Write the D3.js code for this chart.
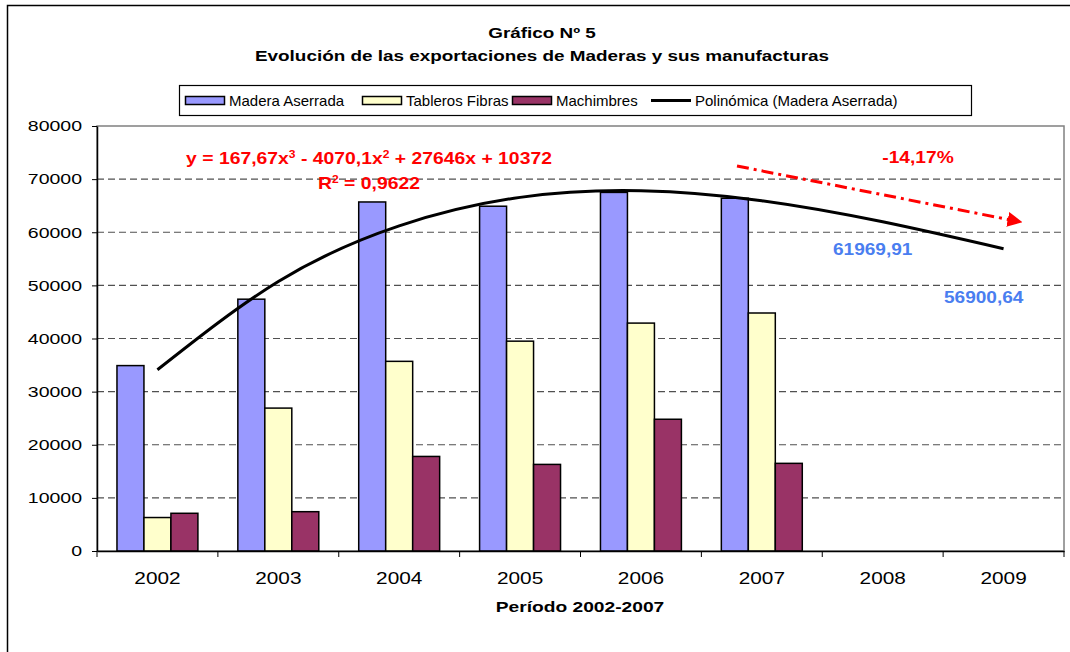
<!DOCTYPE html>
<html>
<head>
<meta charset="utf-8">
<script src="https://cdn.jsdelivr.net/npm/d3@7"></script>
<style>
  body { margin: 0; background: #fff; }
  svg text { font-family: "Liberation Sans", Arial, sans-serif; }
</style>
</head>
<body>
<div id="svganchor"></div>
<script>
let width = 1070, height = 652;

let margin = ({top: 126, right: 6, bottom: 101, left: 97});

// data
let years = ["2002", "2003", "2004", "2005", "2006", "2007", "2008", "2009"];
let seriesNames = ["Madera Aserrada", "Tableros Fibras", "Machimbres"];
let maderaAserrada = [34900, 47400, 65700, 64900, 67500, 66400];
let tablerosFibras = [6300, 26900, 35700, 39500, 42900, 44800];
let machimbres = [7100, 7400, 17800, 16300, 24800, 16500];
// polynomial trend (Madera Aserrada), value at each year
let trendValues = [34116, 50725, 61206, 66565, 67808, 65941, 61970, 56901];
let yTicks = [0, 10000, 20000, 30000, 40000, 50000, 60000, 70000, 80000];
let colors = ["#9999ff", "#ffffcc", "#993366"];

// the original picture has horizontally widened lettering
function stretch(sel, s) {
    sel.each(function() {
        let t = d3.select(this);
        let x = +t.attr("x") || 0;
        let y = +t.attr("y") || 0;
        t.attr("x", 0).attr("y", 0)
            .attr("transform", "translate(" + x + "," + y + ") scale(" + s + ",1)");
    });
}

let svg = d3.select("#svganchor")
    .append("svg")
    .attr("width", width)
    .attr("height", height);

// outer frame
svg.append("path")
    .attr("d", "M7.5," + height + "V5.5H" + width)
    .attr("fill", "none")
    .attr("stroke", "#000")
    .attr("stroke-width", 1.5);

let xScale = d3.scaleBand()
    .domain(years)
    .range([margin.left, width - margin.right]);

let xInner = d3.scaleBand()
    .domain(seriesNames)
    .range([0, xScale.bandwidth()])
    .paddingInner(0)
    .paddingOuter(0.74);

let yScale = d3.scaleLinear()
    .domain([0, 80000])
    .range([height - margin.bottom, margin.top]);

// plot area border
svg.append("rect")
    .attr("x", margin.left)
    .attr("y", margin.top)
    .attr("width", width - margin.right - margin.left)
    .attr("height", height - margin.bottom - margin.top)
    .attr("fill", "none")
    .attr("stroke", "#808080")
    .attr("stroke-width", 1.5);

// grid lines
svg.append("g")
    .selectAll("line")
    .data(yTicks.filter(function(d) { return d > 0 && d < 80000; }))
    .enter()
    .append("line")
    .attr("x1", margin.left)
    .attr("x2", width - margin.right)
    .attr("y1", function(d) { return yScale(d); })
    .attr("y2", function(d) { return yScale(d); })
    .attr("stroke", "#505050")
    .attr("stroke-width", 1.2)
    .attr("stroke-dasharray", "7,4");

// bars
let dataSet = [];
years.forEach(function(y, i) {
    [maderaAserrada, tablerosFibras, machimbres].forEach(function(s, j) {
        if (s[i] !== undefined) {
            dataSet.push({year: y, series: seriesNames[j], value: s[i], color: colors[j]});
        }
    });
});

svg.append("g")
    .selectAll("rect")
    .data(dataSet)
    .enter()
    .append("rect")
    .attr("x", function(d) { return xScale(d.year) + xInner(d.series); })
    .attr("y", function(d) { return yScale(d.value); })
    .attr("width", xInner.bandwidth())
    .attr("height", function(d) { return yScale(0) - yScale(d.value); })
    .attr("fill", function(d) { return d.color; })
    .attr("stroke", "#000")
    .attr("stroke-width", 1.5);

// trend line
let line = d3.line()
    .x(function(d, i) { return xScale(years[i]) + xScale.bandwidth() / 2; })
    .y(function(d) { return yScale(d); })
    .curve(d3.curveNatural);

svg.append("path")
    .datum(trendValues)
    .attr("d", line)
    .attr("fill", "none")
    .attr("stroke", "#000")
    .attr("stroke-width", 3);

// axes
let yAxis = d3.axisLeft(yScale)
    .tickValues(yTicks)
    .tickFormat(d3.format("d"))
    .tickSizeInner(5)
    .tickSizeOuter(0)
    .tickPadding(10);

let gY = svg.append("g")
    .attr("transform", "translate(" + margin.left + ",0)")
    .call(yAxis);

gY.select(".domain").attr("stroke", "#000").attr("stroke-width", 1.5);
gY.selectAll(".tick line").attr("stroke", "#000");
gY.selectAll("text")
    .attr("font-size", 15)
    .attr("fill", "#000")
    .style("font-family", "'Liberation Sans', Arial, sans-serif");
stretch(gY.selectAll("text"), 1.3);

let xAxis = d3.axisBottom(xScale)
    .tickSize(0)
    .tickPadding(22);

let gX = svg.append("g")
    .attr("transform", "translate(0," + (height - margin.bottom) + ")")
    .call(xAxis);

gX.select(".domain").attr("stroke", "#000").attr("stroke-width", 1.5);
gX.selectAll("text")
    .attr("font-size", 16)
    .attr("fill", "#000")
    .style("font-family", "'Liberation Sans', Arial, sans-serif");
stretch(gX.selectAll("text"), 1.3);

// category boundary ticks
svg.append("g")
    .selectAll("line")
    .data(years.concat(["end"]))
    .enter()
    .append("line")
    .attr("x1", function(d, i) { return margin.left + i * xScale.step(); })
    .attr("x2", function(d, i) { return margin.left + i * xScale.step(); })
    .attr("y1", height - margin.bottom)
    .attr("y2", height - margin.bottom + 6)
    .attr("stroke", "#000");

// titles
let t1 = svg.append("text")
    .attr("text-anchor", "middle")
    .attr("x", 542)
    .attr("y", 38)
    .attr("font-size", 15)
    .attr("font-weight", "bold")
    .text("Gráfico Nº 5");

let t2 = svg.append("text")
    .attr("text-anchor", "middle")
    .attr("x", 542)
    .attr("y", 61)
    .attr("font-size", 15)
    .attr("font-weight", "bold")
    .text("Evolución de las exportaciones de Maderas y sus manufacturas");

let t3 = svg.append("text")
    .attr("text-anchor", "middle")
    .attr("x", 580)
    .attr("y", 612)
    .attr("font-size", 15)
    .attr("font-weight", "bold")
    .text("Período 2002-2007");

stretch(t1, 1.26);
stretch(t2, 1.26);
stretch(t3, 1.28);

// legend
svg.append("rect")
    .attr("x", 179.5)
    .attr("y", 85.5)
    .attr("width", 792)
    .attr("height", 30)
    .attr("fill", "#fff")
    .attr("stroke", "#000")
    .attr("stroke-width", 1.2);

let legendItems = [
    {label: seriesNames[0], color: colors[0], x: 185, type: "rect"},
    {label: seriesNames[1], color: colors[1], x: 362, type: "rect"},
    {label: seriesNames[2], color: colors[2], x: 512, type: "rect"},
    {label: "Polinómica (Madera Aserrada)", color: "#000", x: 651, type: "line"}
];

let legend = svg.append("g").selectAll("g")
    .data(legendItems)
    .enter()
    .append("g")
    .attr("transform", function(d) { return "translate(" + d.x + ",0)"; });

legend.filter(function(d) { return d.type === "rect"; })
    .append("rect")
    .attr("x", 0.5)
    .attr("y", 96.5)
    .attr("width", 39)
    .attr("height", 8)
    .attr("fill", function(d) { return d.color; })
    .attr("stroke", "#000")
    .attr("stroke-width", 1.5);

legend.filter(function(d) { return d.type === "line"; })
    .append("line")
    .attr("x1", 0)
    .attr("x2", 40)
    .attr("y1", 100.5)
    .attr("y2", 100.5)
    .attr("stroke", "#000")
    .attr("stroke-width", 3);

legend.append("text")
    .attr("x", 44)
    .attr("y", 106)
    .attr("font-size", 15)
    .text(function(d) { return d.label; });

// equation annotation
let eq = svg.append("text")
    .attr("text-anchor", "middle")
    .attr("x", 369)
    .attr("y", 164)
    .attr("font-size", 16)
    .attr("font-weight", "bold")
    .attr("fill", "#ff0000");
eq.append("tspan").text("y = 167,67x");
eq.append("tspan").attr("font-size", 10).attr("dy", -6).text("3");
eq.append("tspan").attr("dy", 6).text(" - 4070,1x");
eq.append("tspan").attr("font-size", 10).attr("dy", -6).text("2");
eq.append("tspan").attr("dy", 6).text(" + 27646x + 10372");
stretch(eq, 1.21);

let r2 = svg.append("text")
    .attr("text-anchor", "middle")
    .attr("x", 369)
    .attr("y", 189)
    .attr("font-size", 16)
    .attr("font-weight", "bold")
    .attr("fill", "#ff0000");
r2.append("tspan").text("R");
r2.append("tspan").attr("font-size", 10).attr("dy", -6).text("2");
r2.append("tspan").attr("dy", 6).text(" = 0,9622");
stretch(r2, 1.21);

// decline arrow
svg.append("defs")
    .append("marker")
    .attr("id", "arrowhead")
    .attr("viewBox", "0 0 10 10")
    .attr("refX", 9)
    .attr("refY", 5)
    .attr("markerWidth", 5)
    .attr("markerHeight", 5)
    .attr("markerUnits", "strokeWidth")
    .attr("orient", "auto")
    .append("path")
    .attr("d", "M0,0L10,5L0,10Z")
    .attr("fill", "#ff0000");

svg.append("line")
    .attr("x1", 737)
    .attr("y1", 166)
    .attr("x2", 1021)
    .attr("y2", 222)
    .attr("stroke", "#ff0000")
    .attr("stroke-width", 3)
    .attr("stroke-dasharray", "12,5,3,5")
    .attr("marker-end", "url(#arrowhead)");

let pct = svg.append("text")
    .attr("text-anchor", "middle")
    .attr("x", 918)
    .attr("y", 163)
    .attr("font-size", 16)
    .attr("font-weight", "bold")
    .attr("fill", "#ff0000")
    .text("-14,17%");
stretch(pct, 1.2);

// forecast labels
let f1 = svg.append("text")
    .attr("x", 833)
    .attr("y", 255)
    .attr("font-size", 16)
    .attr("font-weight", "bold")
    .attr("fill", "#4a7ef0")
    .text("61969,91");

let f2 = svg.append("text")
    .attr("x", 944)
    .attr("y", 303)
    .attr("font-size", 16)
    .attr("font-weight", "bold")
    .attr("fill", "#4a7ef0")
    .text("56900,64");
stretch(f1, 1.19);
stretch(f2, 1.19);
</script>
</body>
</html>
